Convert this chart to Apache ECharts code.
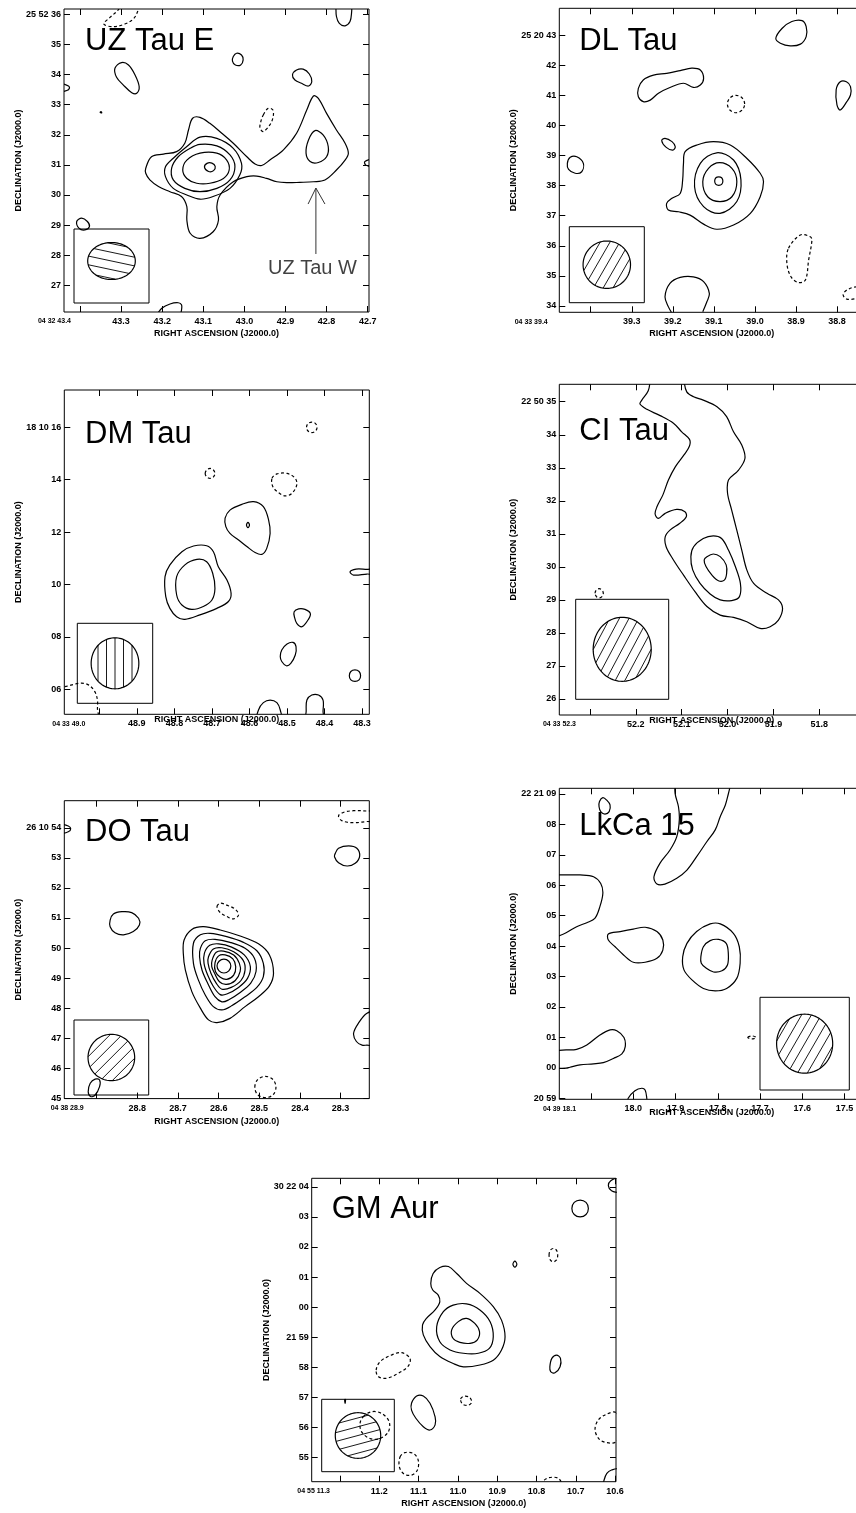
<!DOCTYPE html>
<html>
<head>
<meta charset="utf-8">
<script src="https://cdn.jsdelivr.net/npm/echarts@6/dist/echarts.min.js"></script>
<style>
html,body{margin:0;padding:0;background:#fff;}
#chart{width:856px;height:1513px;}
</style>
</head>
<body>
<div id="chart"></div>
<script>
// ---------- UZ Tau E (RA seconds of 04h32m, Dec arcsec of +25d52m) ----------
const uzRaTicks = [43.4, 43.3, 43.2, 43.1, 43.0, 42.9, 42.8, 42.7];
const uzRaLabels = ['04 32 43.4', '43.3', '43.2', '43.1', '43.0', '42.9', '42.8', '42.7'];
const uzDecTicks = [27, 28, 29, 30, 31, 32, 33, 34, 35, 36];
const uzDecLabels = ['27', '28', '29', '30', '31', '32', '33', '34', '35', '25 52 36'];
const uzPos = [
  [[43.240,30.89],[43.226,31.27],[43.197,31.36],[43.165,31.44],[43.145,31.72],[43.136,32.16],[43.126,32.55],[43.108,32.58],[43.084,32.38],[43.055,32.05],[43.027,31.72],[42.994,31.27],[42.974,31.03],[42.958,30.98],[42.938,31.16],[42.905,31.50],[42.873,32.05],[42.848,32.83],[42.832,33.29],[42.820,33.21],[42.800,32.71],[42.776,32.16],[42.755,31.72],[42.747,31.39],[42.755,31.16],[42.776,30.83],[42.804,30.50],[42.832,30.44],[42.865,30.42],[42.897,30.41],[42.921,30.44],[42.946,30.55],[42.970,30.63],[42.994,30.61],[43.027,30.44],[43.059,30.00],[43.067,29.61],[43.063,29.17],[43.076,28.78],[43.108,28.56],[43.132,28.73],[43.140,29.17],[43.140,29.61],[43.153,29.95],[43.181,30.11],[43.209,30.28],[43.230,30.50],[43.240,30.72]],
  [[42.828,32.14],[42.808,31.99],[42.796,31.61],[42.800,31.27],[42.820,31.08],[42.840,31.11],[42.850,31.39],[42.844,31.83]],
  [[43.108,31.92],[43.067,31.88],[43.027,31.55],[43.007,31.05],[43.011,30.67],[43.035,30.22],[43.076,29.95],[43.108,29.86],[43.140,30.00],[43.173,30.22],[43.192,30.61],[43.192,30.94],[43.173,31.22],[43.140,31.61]],
  [[43.108,31.68],[43.067,31.63],[43.035,31.33],[43.023,30.94],[43.035,30.50],[43.067,30.22],[43.108,30.11],[43.145,30.22],[43.173,30.50],[43.177,30.89],[43.161,31.27],[43.132,31.55]],
  [[43.108,31.39],[43.067,31.39],[43.043,31.16],[43.037,30.83],[43.051,30.55],[43.084,30.39],[43.116,30.39],[43.140,30.55],[43.150,30.83],[43.140,31.16]],
  [[43.097,30.92],[43.091,31.05],[43.079,31.06],[43.071,30.95],[43.075,30.81],[43.087,30.78]],
  [[43.027,34.60],[43.019,34.71],[43.007,34.65],[43.003,34.49],[43.009,34.32],[43.022,34.32],[43.029,34.45]],
  [[43.315,34.21],[43.299,34.40],[43.282,34.32],[43.266,33.99],[43.256,33.60],[43.262,33.38],[43.274,33.40],[43.295,33.66],[43.311,33.91]],
  [[42.883,33.99],[42.873,34.15],[42.857,34.18],[42.842,34.02],[42.836,33.77],[42.844,33.62],[42.861,33.71],[42.877,33.82]],
  [[43.408,29.12],[43.396,29.23],[43.382,29.12],[43.377,28.95],[43.388,28.84],[43.402,28.89]],
  [[43.351,32.74],[43.349,32.77],[43.347,32.73]]
];
const uzPosOpen = [
  [[42.777,36.26],[42.776,35.93],[42.769,35.70],[42.755,35.62],[42.743,35.76],[42.739,36.09],[42.739,36.31]],
  [[43.450,33.73],[43.428,33.62],[43.426,33.54],[43.432,33.47],[43.450,33.42]],
  [[43.213,26.01],[43.201,26.24],[43.181,26.38],[43.161,26.42],[43.153,26.35],[43.153,26.18],[43.157,25.96]],
  [[42.690,31.20],[42.707,31.11],[42.705,31.00],[42.690,30.93]]
];
const uzNeg = [
  [[42.954,32.66],[42.942,32.88],[42.931,32.83],[42.930,32.60],[42.938,32.33],[42.954,32.11],[42.962,32.22],[42.960,32.44]]
];
const uzNegOpen = [
  [[43.299,36.37],[43.307,36.15],[43.327,35.90],[43.342,35.68],[43.319,35.59],[43.291,35.68],[43.270,35.85],[43.258,36.15],[43.254,36.37]]
];
const uzBeam = [0.0579, 0.615, -12];          // semi-axis RA (s), semi-axis Dec ("), hatch angle (deg)
const uzWArrow = [[42.826, 28.04], [42.826, 30.23]];
const uzWHead = [[42.845, 29.70], [42.826, 30.23], [42.804, 29.70]];

// ---------- DL Tau ----------
const dlRaTicks = [39.4, 39.3, 39.2, 39.1, 39.0, 38.9, 38.8];
const dlRaLabels = ['04 33 39.4', '39.3', '39.2', '39.1', '39.0', '38.9', '38.8'];
const dlDecTicks = [34, 35, 36, 37, 38, 39, 40, 41, 42, 43];
const dlDecLabels = ['34', '35', '36', '37', '38', '39', '40', '41', '42', '25 20 43'];
const dlPos = [
  [[39.170,39.13],[39.141,39.35],[39.101,39.46],[39.060,39.35],[39.020,38.91],[38.987,38.41],[38.979,38.13],[38.987,37.63],[39.011,37.08],[39.052,36.69],[39.093,36.55],[39.125,36.72],[39.158,37.02],[39.186,37.13],[39.211,37.19],[39.215,37.41],[39.202,37.58],[39.182,37.74],[39.176,38.19],[39.174,38.74]],
  [[39.093,39.09],[39.052,38.85],[39.034,38.19],[39.044,37.47],[39.085,37.08],[39.125,37.30],[39.147,37.96],[39.133,38.74]],
  [[39.086,38.76],[39.056,38.57],[39.044,38.13],[39.056,37.63],[39.085,37.47],[39.115,37.63],[39.127,38.13],[39.113,38.57]],
  [[39.098,38.15],[39.095,38.26],[39.088,38.29],[39.081,38.26],[39.078,38.15],[39.081,38.04],[39.088,38.01],[39.095,38.04]],
  [[38.949,42.89],[38.934,43.22],[38.910,43.45],[38.885,43.48],[38.875,43.28],[38.875,42.95],[38.889,42.70],[38.914,42.64],[38.938,42.73]],
  [[39.284,41.23],[39.272,41.51],[39.247,41.67],[39.215,41.73],[39.182,41.82],[39.154,41.90],[39.133,41.84],[39.125,41.56],[39.133,41.34],[39.150,41.26],[39.174,41.40],[39.207,41.26],[39.235,41.07],[39.255,40.84],[39.272,40.79],[39.284,40.95]],
  [[39.457,38.74],[39.450,38.94],[39.434,38.96],[39.418,38.74],[39.422,38.46],[39.438,38.41],[39.454,38.54]],
  [[39.227,39.49],[39.219,39.57],[39.202,39.46],[39.194,39.29],[39.200,39.18],[39.216,39.27]],
  [[38.802,41.18],[38.792,41.45],[38.777,41.45],[38.767,41.29],[38.767,41.01],[38.776,40.79],[38.792,40.51],[38.800,40.68]]
];
const dlPosOpen = [
  [[39.127,33.81],[39.117,34.14],[39.111,34.42],[39.125,34.81],[39.150,34.97],[39.182,34.95],[39.207,34.75],[39.219,34.31],[39.211,33.98],[39.202,33.76]]
];
const dlNeg = [
  [[39.025,40.71],[39.031,40.91],[39.046,41.00],[39.061,40.91],[39.067,40.71],[39.061,40.51],[39.046,40.42],[39.031,40.51]],
  [[38.918,35.92],[38.889,36.36],[38.865,36.30],[38.861,36.19],[38.869,35.53],[38.877,34.86],[38.894,34.78],[38.912,34.97],[38.922,35.42]],
  [[38.751,34.64],[38.776,34.53],[38.785,34.37],[38.776,34.23],[38.751,34.25],[38.720,34.35],[38.720,34.55]]
];
const dlNegOpen = [];
const dlBeam = [0.0578, 0.787, 60];

// ---------- DM Tau ----------
const dmRaTicks = [49.0, 48.9, 48.8, 48.7, 48.6, 48.5, 48.4, 48.3];
const dmRaLabels = ['04 33 49.0', '48.9', '48.8', '48.7', '48.6', '48.5', '48.4', '48.3'];
const dmDecTicks = [6, 8, 10, 12, 14, 16];
const dmDecLabels = ['06', '08', '10', '12', '14', '18 10 16'];
const dmPos = [
  [[48.825,10.30],[48.812,10.75],[48.780,11.25],[48.749,11.47],[48.714,11.48],[48.696,11.25],[48.683,10.68],[48.660,10.17],[48.649,9.66],[48.656,9.35],[48.687,9.09],[48.732,8.84],[48.772,8.67],[48.794,8.77],[48.812,9.09],[48.823,9.54]],
  [[48.794,10.30],[48.772,10.75],[48.740,10.96],[48.714,10.87],[48.698,10.43],[48.692,9.85],[48.700,9.41],[48.723,9.16],[48.754,9.05],[48.780,9.22],[48.794,9.60]],
  [[48.665,12.53],[48.652,12.84],[48.620,13.06],[48.589,13.16],[48.563,12.97],[48.549,12.46],[48.545,11.95],[48.554,11.38],[48.567,11.15],[48.585,11.22],[48.607,11.45],[48.629,11.70],[48.652,11.95],[48.663,12.21]],
  [[48.608,12.27],[48.604,12.37],[48.600,12.27],[48.604,12.17]],
  [[48.481,8.96],[48.469,9.07],[48.452,9.05],[48.438,8.90],[48.443,8.67],[48.460,8.39],[48.474,8.52],[48.480,8.75]],
  [[48.514,7.50],[48.500,7.73],[48.484,7.79],[48.476,7.63],[48.478,7.31],[48.490,6.99],[48.502,6.90],[48.514,7.06],[48.518,7.25]],
  [[48.334,6.52],[48.330,6.68],[48.319,6.74],[48.308,6.68],[48.304,6.52],[48.308,6.36],[48.319,6.30],[48.330,6.36]],
  [[48.269,10.58],[48.287,10.58],[48.316,10.59],[48.332,10.49],[48.323,10.36],[48.287,10.40],[48.269,10.40]],
  [[48.579,4.83],[48.576,5.21],[48.563,5.49],[48.545,5.59],[48.527,5.49],[48.518,5.21],[48.516,4.83]],
  [[48.449,4.83],[48.449,5.15],[48.447,5.59],[48.434,5.78],[48.416,5.78],[48.404,5.59],[48.404,5.15],[48.404,4.83]]
];
const dmPosOpen = [];
const dmNeg = [
  [[48.448,16.00],[48.444,16.14],[48.434,16.20],[48.424,16.14],[48.420,16.00],[48.424,15.86],[48.434,15.80],[48.444,15.86]],
  [[48.718,14.24],[48.714,14.37],[48.705,14.43],[48.696,14.37],[48.692,14.24],[48.696,14.11],[48.705,14.05],[48.714,14.11]],
  [[48.540,14.05],[48.527,14.22],[48.500,14.24],[48.478,14.05],[48.474,13.80],[48.487,13.48],[48.505,13.38],[48.523,13.51],[48.538,13.74]],
  [[49.120,6.04],[49.092,6.10],[49.052,6.23],[49.029,6.17],[49.012,5.91],[49.005,5.59],[49.005,5.27],[49.005,4.83],[49.120,4.83]]
];
const dmNegOpen = [];
const dmBeam = [0.0635, 0.973, 90];

// ---------- CI Tau ----------
const ciRaTicks = [52.3, 52.2, 52.1, 52.0, 51.9, 51.8];
const ciRaLabels = ['04 33 52.3', '52.2', '52.1', '52.0', '51.9', '51.8'];
const ciDecTicks = [26, 27, 28, 29, 30, 31, 32, 33, 34, 35];
const ciDecLabels = ['26', '27', '28', '29', '30', '31', '32', '33', '34', '22 50 35'];
const ciPos = [
  [[52.074,30.61],[52.053,30.86],[52.031,30.94],[52.013,30.86],[51.998,30.51],[51.983,30.01],[51.972,29.50],[51.974,29.10],[51.991,28.98],[52.016,29.00],[52.038,29.18],[52.060,29.50],[52.076,29.91],[52.080,30.31]],
  [[52.045,30.31],[52.031,30.39],[52.016,30.31],[52.003,30.06],[52.002,29.80],[52.007,29.60],[52.020,29.58],[52.034,29.75],[52.047,30.01],[52.051,30.21]]
];
const ciPosOpen = [
  [[52.169,35.66],[52.173,35.33],[52.187,35.05],[52.191,34.93],[52.176,34.77],[52.147,34.58],[52.118,34.35],[52.100,34.09],[52.083,33.86],[52.083,33.66],[52.095,33.39],[52.114,33.03],[52.129,32.63],[52.141,32.18],[52.154,31.82],[52.158,31.60],[52.151,31.47],[52.136,31.62],[52.111,31.74],[52.093,31.67],[52.090,31.52],[52.104,31.32],[52.125,31.12],[52.136,30.91],[52.134,30.61],[52.118,30.21],[52.096,29.75],[52.071,29.25],[52.045,28.80],[52.016,28.54],[51.987,28.47],[51.958,28.34],[51.929,28.14],[51.907,28.19],[51.889,28.39],[51.880,28.74],[51.889,29.00],[51.914,29.20],[51.943,29.50],[51.958,29.91],[51.969,30.51],[51.980,31.12],[51.991,31.72],[52.000,32.23],[51.998,32.63],[51.976,32.93],[51.962,33.29],[51.969,33.69],[51.987,34.09],[52.002,34.55],[52.023,34.85],[52.053,35.05],[52.074,35.15],[52.089,35.30],[52.095,35.66]]
];
const ciNeg = [
  [[52.289,29.20],[52.286,29.30],[52.280,29.34],[52.274,29.30],[52.271,29.20],[52.274,29.10],[52.280,29.06],[52.286,29.10]]
];
const ciNegOpen = [];
const ciBeam = [0.0633, 0.969, 62];

// ---------- DO Tau ----------
const doRaTicks = [28.9, 28.8, 28.7, 28.6, 28.5, 28.4, 28.3];
const doRaLabels = ['04 38 28.9', '28.8', '28.7', '28.6', '28.5', '28.4', '28.3'];
const doDecTicks = [45, 46, 47, 48, 49, 50, 51, 52, 53, 54];
const doDecLabels = ['45', '46', '47', '48', '49', '50', '51', '52', '53', '26 10 54'];
const doPos = [
  [[28.685,50.27],[28.666,50.62],[28.637,50.71],[28.596,50.60],[28.547,50.40],[28.502,50.14],[28.475,49.77],[28.465,49.16],[28.475,48.74],[28.502,48.38],[28.535,48.05],[28.572,47.66],[28.604,47.52],[28.625,47.61],[28.645,48.00],[28.666,48.55],[28.682,49.27],[28.687,49.83]],
  [[28.662,50.16],[28.645,50.44],[28.621,50.49],[28.580,50.38],[28.539,50.19],[28.506,49.91],[28.490,49.49],[28.490,49.05],[28.506,48.69],[28.535,48.38],[28.568,48.08],[28.592,47.94],[28.613,48.05],[28.633,48.44],[28.650,48.94],[28.662,49.49]],
  [[28.645,49.99],[28.633,50.24],[28.609,50.29],[28.572,50.19],[28.535,49.99],[28.512,49.66],[28.508,49.22],[28.521,48.83],[28.547,48.52],[28.576,48.27],[28.592,48.21],[28.609,48.38],[28.627,48.83],[28.641,49.27],[28.647,49.71]],
  [[28.635,49.83],[28.622,50.09],[28.600,50.14],[28.568,50.03],[28.537,49.77],[28.522,49.38],[28.529,48.99],[28.551,48.69],[28.580,48.47],[28.596,48.45],[28.613,48.72],[28.627,49.10],[28.636,49.49]],
  [[28.625,49.71],[28.613,49.97],[28.592,50.01],[28.563,49.88],[28.540,49.60],[28.535,49.27],[28.545,48.92],[28.569,48.69],[28.592,48.63],[28.606,48.83],[28.619,49.16],[28.626,49.49]],
  [[28.616,49.60],[28.606,49.86],[28.588,49.90],[28.563,49.77],[28.549,49.49],[28.547,49.22],[28.559,48.92],[28.581,48.79],[28.598,48.88],[28.610,49.16],[28.617,49.38]],
  [[28.609,49.51],[28.600,49.74],[28.584,49.77],[28.565,49.64],[28.558,49.38],[28.563,49.10],[28.580,48.96],[28.596,49.03],[28.608,49.22]],
  [[28.604,49.40],[28.599,49.56],[28.587,49.63],[28.575,49.56],[28.570,49.40],[28.575,49.24],[28.587,49.17],[28.599,49.24]],
  [[28.867,50.93],[28.859,51.13],[28.838,51.21],[28.814,51.18],[28.797,50.99],[28.795,50.77],[28.810,50.55],[28.834,50.44],[28.855,50.51],[28.867,50.71]],
  [[28.313,53.15],[28.305,53.32],[28.280,53.40],[28.260,53.32],[28.253,53.06],[28.264,52.82],[28.284,52.73],[28.305,52.84],[28.315,53.04]],
  [[28.921,45.22],[28.916,45.50],[28.904,45.64],[28.893,45.61],[28.893,45.39],[28.904,45.11],[28.915,45.06]],
  [[28.210,47.88],[28.235,47.83],[28.256,47.50],[28.268,47.16],[28.261,46.89],[28.247,46.77],[28.235,46.77],[28.210,46.77]],
  [[28.986,54.10],[28.970,54.06],[28.964,53.97],[28.970,53.87],[28.986,53.84]]
];
const doPosOpen = [];
const doNeg = [
  [[28.604,51.38],[28.596,51.49],[28.580,51.43],[28.559,51.29],[28.551,51.10],[28.563,50.97],[28.580,51.05],[28.596,51.18]],
  [[28.210,54.54],[28.235,54.56],[28.268,54.57],[28.292,54.52],[28.305,54.40],[28.297,54.24],[28.268,54.17],[28.235,54.21],[28.210,54.23]],
  [[28.511,45.37],[28.504,45.62],[28.485,45.73],[28.466,45.62],[28.459,45.37],[28.466,45.12],[28.485,45.02],[28.504,45.12]]
];
const doNegOpen = [];
const doBeam = [0.0574, 0.772, 45];

// ---------- LkCa 15 (Dec axis: arcsec after +22d20m00s) ----------
const lkRaTicks = [18.1, 18.0, 17.9, 17.8, 17.7, 17.6, 17.5];
const lkRaLabels = ['04 39 18.1', '18.0', '17.9', '17.8', '17.7', '17.6', '17.5'];
const lkDecTicks = [59, 60, 61, 62, 63, 64, 65, 66, 67, 68, 69];
const lkDecLabels = ['20 59', '00', '01', '02', '03', '04', '05', '06', '07', '08', '22 21 09'];
const lkPos = [
  [[18.080,68.75],[18.072,68.88],[18.063,68.80],[18.055,68.64],[18.057,68.42],[18.067,68.34],[18.077,68.42],[18.081,68.58]],
  [[18.059,64.40],[18.031,64.48],[18.000,64.56],[17.972,64.62],[17.944,64.48],[17.930,64.20],[17.930,63.87],[17.944,63.60],[17.972,63.47],[18.000,63.47],[18.023,63.71],[18.043,63.98],[18.059,64.20]],
  [[17.883,63.65],[17.873,64.09],[17.850,64.48],[17.818,64.73],[17.794,64.73],[17.763,64.42],[17.749,63.98],[17.747,63.44],[17.755,62.94],[17.779,62.61],[17.806,62.53],[17.834,62.61],[17.861,62.89],[17.880,63.22]],
  [[17.840,63.65],[17.834,63.98],[17.818,64.18],[17.798,64.22],[17.780,64.09],[17.775,63.76],[17.777,63.38],[17.790,63.19],[17.810,63.15],[17.827,63.27],[17.839,63.44]]
];
const lkPosOpen = [
  [[17.901,69.46],[17.901,69.02],[17.893,68.58],[17.891,68.15],[17.897,67.60],[17.913,67.16],[17.937,66.72],[17.951,66.28],[17.944,66.04],[17.925,66.04],[17.897,66.23],[17.873,66.50],[17.850,66.94],[17.826,67.43],[17.806,67.82],[17.794,68.26],[17.782,68.64],[17.775,69.00],[17.767,69.46]],
  [[18.181,66.34],[18.159,66.34],[18.126,66.34],[18.094,66.28],[18.077,66.06],[18.072,65.74],[18.079,65.30],[18.091,64.91],[18.110,64.77],[18.134,64.64],[18.159,64.44],[18.181,64.31]],
  [[18.181,60.57],[18.159,60.59],[18.134,60.61],[18.110,60.75],[18.079,61.08],[18.055,61.25],[18.039,61.22],[18.022,61.00],[18.019,60.70],[18.027,60.46],[18.047,60.31],[18.071,60.17],[18.094,60.13],[18.126,60.10],[18.150,60.02],[18.159,59.99],[18.181,59.99]],
  [[18.012,58.84],[18.012,59.00],[17.996,59.25],[17.980,59.33],[17.972,59.27],[17.968,59.00],[17.968,58.84]]
];
const lkNeg = [
  [[17.729,61.00],[17.719,61.05],[17.709,61.00],[17.719,60.95]]
];
const lkNegOpen = [];
const lkBeam = [0.0664, 0.969, 60];

// ---------- GM Aur (Dec axis: arcsec after +30d21m00s) ----------
const gmRaTicks = [11.3, 11.2, 11.1, 11.0, 10.9, 10.8, 10.7, 10.6];
const gmRaLabels = ['04 55 11.3', '11.2', '11.1', '11.0', '10.9', '10.8', '10.7', '10.6'];
const gmDecTicks = [55, 56, 57, 58, 59, 60, 61, 62, 63, 64];
const gmDecLabels = ['55', '56', '57', '58', '21 59', '00', '01', '02', '03', '30 22 04'];
const gmPos = [
  [[11.069,60.79],[11.063,61.12],[11.046,61.32],[11.024,61.35],[11.003,61.12],[10.978,60.79],[10.944,60.46],[10.910,60.02],[10.889,59.57],[10.880,59.02],[10.889,58.58],[10.910,58.24],[10.944,58.08],[10.986,58.02],[11.012,58.13],[11.046,58.36],[11.071,58.69],[11.088,59.08],[11.090,59.41],[11.080,59.63],[11.058,59.91],[11.046,60.18],[11.050,60.40],[11.064,60.57]],
  [[11.054,59.35],[11.037,59.85],[11.012,60.07],[10.978,60.11],[10.944,59.91],[10.918,59.52],[10.910,59.02],[10.920,58.63],[10.948,58.47],[10.986,58.47],[11.020,58.58],[11.046,58.85]],
  [[11.016,59.24],[10.999,59.52],[10.978,59.63],[10.957,59.46],[10.945,59.19],[10.951,58.91],[10.969,58.80],[10.995,58.83],[11.012,58.96]],
  [[10.860,61.43],[10.855,61.53],[10.850,61.43],[10.855,61.33]],
  [[10.710,63.28],[10.704,63.48],[10.689,63.56],[10.674,63.48],[10.668,63.28],[10.674,63.08],[10.689,63.00],[10.704,63.08]],
  [[10.592,64.28],[10.611,64.20],[10.617,64.03],[10.609,63.87],[10.592,63.84]],
  [[10.766,58.02],[10.761,58.30],[10.749,58.41],[10.739,58.30],[10.740,58.02],[10.753,57.82],[10.764,57.86]],
  [[11.118,56.81],[11.105,57.05],[11.088,57.05],[11.071,56.81],[11.058,56.36],[11.058,56.09],[11.071,55.92],[11.088,56.03],[11.107,56.31],[11.118,56.58]],
  [[10.630,54.04],[10.628,54.26],[10.621,54.48],[10.609,54.59],[10.592,54.61],[10.592,54.04]],
  [[11.288,56.93],[11.287,56.80],[11.286,56.93]]
];
const gmPosOpen = [];
const gmNeg = [
  [[10.768,61.73],[10.765,61.89],[10.757,61.95],[10.749,61.89],[10.746,61.73],[10.749,61.57],[10.757,61.51],[10.765,61.57]],
  [[11.208,57.91],[11.198,58.19],[11.169,58.41],[11.143,58.49],[11.122,58.30],[11.126,58.05],[11.152,57.80],[11.181,57.64],[11.202,57.69]],
  [[10.993,56.95],[10.984,57.04],[10.970,57.00],[10.965,56.84],[10.974,56.74],[10.988,56.78]],
  [[11.241,56.36],[11.219,56.53],[11.194,56.47],[11.175,56.20],[11.177,55.86],[11.198,55.64],[11.224,55.64],[11.245,55.86],[11.249,56.14]],
  [[10.598,56.50],[10.621,56.45],[10.643,56.25],[10.651,55.92],[10.640,55.61],[10.621,55.50],[10.598,55.53],[10.579,56.03]],
  [[11.147,55.03],[11.135,55.17],[11.113,55.14],[11.101,54.92],[11.103,54.59],[11.118,54.42],[11.137,54.46],[11.149,54.70]],
  [[10.787,54.09],[10.778,54.28],[10.761,54.35],[10.744,54.31],[10.733,54.09],[10.733,54.00],[10.787,54.00]]
];
const gmNegOpen = [];
const gmBeam = [0.0578, 0.757, 15];

// ---------- panel set-up ----------
const panels = [
  { name: 'UZ Tau E', ra: [42.6968, 43.4389], dec: [26.113, 36.179], raTicks: uzRaTicks, raLabels: uzRaLabels, decTicks: uzDecTicks, decLabels: uzDecLabels, pos: uzPos, posOpen: uzPosOpen, neg: uzNeg, negOpen: uzNegOpen, beam: uzBeam },
  { name: 'DL Tau', ra: [38.7334, 39.4766], dec: [33.791, 43.890], raTicks: dlRaTicks, raLabels: dlRaLabels, decTicks: dlDecTicks, decLabels: dlDecLabels, pos: dlPos, posOpen: dlPosOpen, neg: dlNeg, negOpen: dlNegOpen, beam: dlBeam },
  { name: 'DM Tau', ra: [48.2808, 49.0933], dec: [5.046, 17.424], raTicks: dmRaTicks, raLabels: dmRaLabels, decTicks: dmDecTicks, decLabels: dmDecLabels, pos: dmPos, posOpen: dmPosOpen, neg: dmNeg, negOpen: dmNegOpen, beam: dmBeam },
  { name: 'CI Tau', ra: [51.7017, 52.367], dec: [25.516, 35.528], raTicks: ciRaTicks, raLabels: ciRaLabels, decTicks: ciDecTicks, decLabels: ciDecLabels, pos: ciPos, posOpen: ciPosOpen, neg: ciNeg, negOpen: ciNegOpen, beam: ciBeam },
  { name: 'DO Tau', ra: [28.2293, 28.9798], dec: [44.99, 54.903], raTicks: doRaTicks, raLabels: doRaLabels, decTicks: doDecTicks, decLabels: doDecLabels, pos: doPos, posOpen: doPosOpen, neg: doNeg, negOpen: doNegOpen, beam: doBeam },
  { name: 'LkCa 15', ra: [17.4531, 18.1751], dec: [58.967, 69.187], raTicks: lkRaTicks, raLabels: lkRaLabels, decTicks: lkDecTicks, decLabels: lkDecLabels, pos: lkPos, posOpen: lkPosOpen, neg: lkNeg, negOpen: lkNegOpen, beam: lkBeam },
  { name: 'GM Aur', ra: [10.5977, 11.372], dec: [54.203, 64.282], raTicks: gmRaTicks, raLabels: gmRaLabels, decTicks: gmDecTicks, decLabels: gmDecLabels, pos: gmPos, posOpen: gmPosOpen, neg: gmNeg, negOpen: gmNegOpen, beam: gmBeam }
];

// page layout of each panel: frame [left, top, width, height], beam box inside the frame,
// source name (left, baseline), gap of the RA axis title, gap between first RA label and its tick
const layout = [
  { frame: [64, 9, 305, 303],      beamBox: [10, 220, 75, 74],    beamDy: -5, title: [85, 51.7],    raNameGap: 17, firstGap: 9 },
  { frame: [559.3, 8.3, 305, 304], beamBox: [10, 218.4, 75, 76],  beamDy: 0, title: [579.3, 51.7], raNameGap: 17, firstGap: 43 },
  { frame: [64.3, 390, 305, 324.3], beamBox: [13, 233.3, 75.4, 80], beamDy: 0, title: [85, 445],    raNameGap: 1,  firstGap: 14 },
  { frame: [559.3, 384.3, 305, 330.7], beamBox: [16.4, 215, 93, 100], beamDy: 0, title: [579.3, 441.7], raNameGap: 1, firstGap: 14 },
  { frame: [64.3, 800.7, 305, 297.9], beamBox: [9.7, 219.3, 74.7, 75], beamDy: 0, title: [85, 843.3], raNameGap: 18, firstGap: 13 },
  { frame: [559.3, 788.3, 305, 311], beamBox: [200.7, 209, 89.3, 92.7], beamDy: 0, title: [579.3, 836.7], raNameGap: 9, firstGap: 15 },
  { frame: [311.7, 1178.3, 304.3, 303.4], beamBox: [10, 221, 72.6, 72.4], beamDy: 0, title: [331.7, 1220], raNameGap: 17, firstGap: 10 }
];

const TICK_FONT = "'Liberation Sans', Arial, sans-serif";
const TEXT_FONT = "'Liberation Sans', Arial, sans-serif";
const TICK_SIZE = 9;
const FIRST_SIZE = 7;
const INK = '#000';

const measureCtx = document.createElement('canvas').getContext('2d');
function textWidth(txt, size, weight, family) {
  measureCtx.font = weight + ' ' + size + 'px ' + family;
  return measureCtx.measureText(txt).width;
}
function nearestIndex(ticks, v) {
  let k = 0, best = Infinity;
  ticks.forEach((t, i) => { const d = Math.abs(t - v); if (d < best) { best = d; k = i; } });
  return k;
}

const grids = [], xAxes = [], yAxes = [], series = [], graphics = [];

panels.forEach((p, i) => {
  const L = layout[i];
  grids.push({ left: L.frame[0], top: L.frame[1], width: L.frame[2], height: L.frame[3],
    outerBoundsMode: 'none', containLabel: false,
    show: true, borderColor: INK, borderWidth: 1, backgroundColor: 'transparent' });

  const firstW = textWidth(p.raLabels[0], FIRST_SIZE, 'bold', TICK_FONT);
  const tickStyle = { show: true, inside: true, length: 6, lineStyle: { color: INK, width: 1 } };
  const labelStyle = { color: INK, fontSize: TICK_SIZE, fontWeight: 'bold', fontFamily: TICK_FONT };
  const nameStyle = { color: INK, fontSize: TICK_SIZE, fontWeight: 'bold', fontFamily: TICK_FONT };

  // RA axes (bottom with labels, top with ticks only); RA grows to the left
  xAxes.push({
    gridIndex: i, type: 'value', min: p.ra[0], max: p.ra[1], inverse: true, position: 'bottom',
    axisLine: { show: false }, splitLine: { show: false },
    axisTick: Object.assign({ customValues: p.raTicks }, tickStyle),
    axisLabel: Object.assign({
      show: true, margin: 5, customValues: p.raTicks,
      formatter: v => {
        const k = nearestIndex(p.raTicks, v);
        return k === 0 ? '{f|' + p.raLabels[0] + '}' : p.raLabels[k];
      },
      rich: { f: { color: INK, fontSize: FIRST_SIZE, fontWeight: 'bold', fontFamily: TICK_FONT,
        padding: [1, firstW + 2 * L.firstGap, 0, 0] } }
    }, labelStyle),
    name: 'RIGHT ASCENSION (J2000.0)', nameLocation: 'middle', nameGap: L.raNameGap,
    nameMoveOverlap: false, nameTextStyle: nameStyle
  });
  xAxes.push({
    gridIndex: i, type: 'value', min: p.ra[0], max: p.ra[1], inverse: true, position: 'top',
    axisLine: { show: false }, splitLine: { show: false },
    axisTick: Object.assign({ customValues: p.raTicks }, tickStyle), axisLabel: { show: false }
  });
  // Dec axes (left with labels, right with ticks only)
  yAxes.push({
    gridIndex: i, type: 'value', min: p.dec[0], max: p.dec[1], position: 'left',
    axisLine: { show: false }, splitLine: { show: false },
    axisTick: Object.assign({ customValues: p.decTicks }, tickStyle),
    axisLabel: Object.assign({ show: true, margin: 3, customValues: p.decTicks,
      formatter: v => p.decLabels[nearestIndex(p.decTicks, v)] }, labelStyle),
    name: 'DECLINATION (J2000.0)', nameLocation: 'middle', nameRotate: 90, nameGap: 41,
    nameMoveOverlap: false, nameTextStyle: nameStyle
  });
  yAxes.push({
    gridIndex: i, type: 'value', min: p.dec[0], max: p.dec[1], position: 'right',
    axisLine: { show: false }, splitLine: { show: false },
    axisTick: Object.assign({ customValues: p.decTicks }, tickStyle), axisLabel: { show: false }
  });

  const xi = 2 * i, yi = 2 * i;
  function contourSeries(list, closed, dashed) {
    if (!list.length) return;
    series.push({
      type: 'custom', xAxisIndex: xi, yAxisIndex: yi, clip: true, silent: true, z: 3,
      data: list.map((c, k) => [c[0][0], c[0][1], k]),
      renderItem: (params, api) => {
        const pts = list[api.value(2)].map(pt => api.coord(pt));
        return {
          type: closed ? 'polygon' : 'polyline',
          shape: { points: pts, smooth: 0.35 },
          style: { fill: 'none', stroke: INK, lineWidth: 1.2, lineDash: dashed ? [3, 2.5] : null }
        };
      }
    });
  }
  contourSeries(p.pos, true, false);
  contourSeries(p.posOpen, false, false);
  contourSeries(p.neg, true, true);
  contourSeries(p.negOpen, false, true);

  // restoring beam: box, ellipse and hatching
  series.push({
    type: 'custom', xAxisIndex: xi, yAxisIndex: yi, silent: true, z: 4,
    data: [p.beam],
    renderItem: (params, api) => {
      const cs = params.coordSys;
      const bx = cs.x + L.beamBox[0], by = cs.y + L.beamBox[1], bw = L.beamBox[2], bh = L.beamBox[3];
      const cx = bx + bw / 2, cy = by + bh / 2 + L.beamDy;
      const d = api.size([api.value(0) * 2, api.value(1) * 2]);
      const a = d[0] / 2, b = d[1] / 2;
      const ell = [];
      for (let k = 0; k < 96; k++) { const t = k / 96 * 2 * Math.PI; ell.push([cx + a * Math.cos(t), cy + b * Math.sin(t)]); }
      const th = api.value(2) * Math.PI / 180;
      const dx = Math.cos(th), dy = -Math.sin(th), nx = -dy, ny = dx;
      const hatch = [];
      const step = 8.5;
      for (let k = -6; k <= 6; k++) {
        const s = k * step;
        const px = s * nx, py = s * ny;
        const A = dx * dx / (a * a) + dy * dy / (b * b);
        const B = 2 * (px * dx / (a * a) + py * dy / (b * b));
        const C = px * px / (a * a) + py * py / (b * b) - 1;
        const disc = B * B - 4 * A * C;
        if (disc <= 4 * A * A) continue;
        const t1 = (-B - Math.sqrt(disc)) / (2 * A), t2 = (-B + Math.sqrt(disc)) / (2 * A);
        hatch.push({ type: 'line', shape: { x1: cx + px + t1 * dx, y1: cy + py + t1 * dy, x2: cx + px + t2 * dx, y2: cy + py + t2 * dy },
          style: { stroke: INK, lineWidth: 0.9 } });
      }
      return { type: 'group', children: [
        { type: 'rect', shape: { x: bx, y: by, width: bw, height: bh }, style: { fill: 'none', stroke: INK, lineWidth: 1 } },
        { type: 'polygon', shape: { points: ell }, style: { fill: 'none', stroke: INK, lineWidth: 1.2 } }
      ].concat(hatch) };
    }
  });

  graphics.push({ type: 'text', x: L.title[0], y: L.title[1] - 0.3465 * 31, z: 10,
    style: { text: p.name, fontSize: 31, fontFamily: TEXT_FONT, fill: INK, align: 'left', verticalAlign: 'middle' } });
});

// UZ Tau W pointer
series.push({
  type: 'line', xAxisIndex: 0, yAxisIndex: 0, data: uzWArrow, showSymbol: false, symbol: 'none', silent: true,
  lineStyle: { color: '#333', width: 1 }, z: 5
});
series.push({
  type: 'line', xAxisIndex: 0, yAxisIndex: 0, data: uzWHead, showSymbol: false, symbol: 'none', silent: true,
  lineStyle: { color: '#333', width: 1 }, z: 5
});
series.push({
  type: 'scatter', xAxisIndex: 0, yAxisIndex: 0, data: [uzWArrow[0]], symbolSize: 0, silent: true, z: 5,
  label: { show: true, position: 'bottom', distance: 4, offset: [-3.5, 0], formatter: 'UZ Tau W',
    fontSize: 20, fontFamily: TEXT_FONT, color: '#111' }
});

const chart = echarts.init(document.getElementById('chart'), null, { renderer: 'canvas' });
chart.setOption({
  animation: false,
  backgroundColor: '#fff',
  grid: grids, xAxis: xAxes, yAxis: yAxes, series: series, graphic: graphics
});
</script>
</body>
</html>
